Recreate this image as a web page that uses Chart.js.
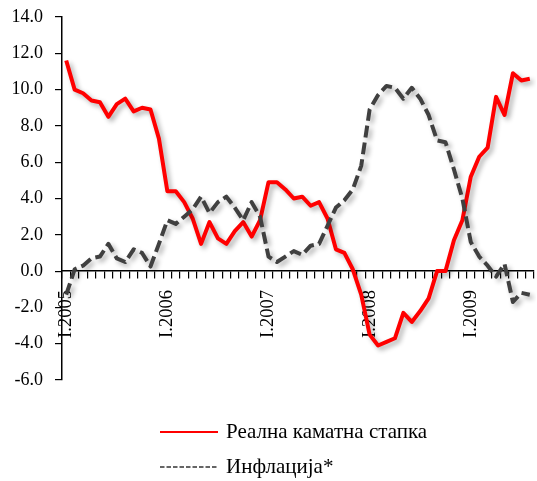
<!DOCTYPE html>
<html>
<head>
<meta charset="utf-8">
<script src="https://cdn.jsdelivr.net/npm/chart.js@4/dist/chart.umd.min.js"></script>
<style>
  html, body { margin: 0; padding: 0; background: #ffffff; }
  #wrap { width: 537px; height: 481px; }
</style>
</head>
<body>
<div id="wrap"><canvas id="chart" width="537" height="481"></canvas></div>
<script>
// Monthly series, January 2005 – August 2009
const firstYear = 2005;
const monthCount = 56;
const romanMonths = ['I', 'II', 'III', 'IV', 'V', 'VI', 'VII', 'VIII', 'IX', 'X', 'XI', 'XII'];
const months = [];
for (let k = 0; k < monthCount; k++) {
  months.push(romanMonths[k % 12] + '.' + (firstYear + Math.floor(k / 12)));
}

const realRate = [
  11.6, 10.0, 9.8, 9.4, 9.3, 8.5, 9.2, 9.5, 8.8, 9.0, 8.9, 7.3,
  4.4, 4.4, 3.8, 2.9, 1.5, 2.7, 1.8, 1.5, 2.2, 2.7, 1.9, 2.8,
  4.9, 4.9, 4.5, 4.0, 4.1, 3.6, 3.8, 2.9, 1.2, 1.0, 0.1, -1.3,
  -3.5, -4.1, -3.9, -3.7, -2.3, -2.8, -2.2, -1.5, 0.0, 0.0, 1.7, 2.8,
  5.2, 6.3, 6.8, 9.6, 8.6, 10.9, 10.5, 10.6
];

const inflation = [
  -1.3, 0.1, 0.3, 0.7, 0.8, 1.5, 0.7, 0.5, 1.2, 1.0, 0.25, 1.5,
  2.8, 2.6, 3.0, 3.4, 4.1, 3.2, 3.8, 4.1, 3.5, 2.8, 3.8, 3.0,
  0.8, 0.5, 0.8, 1.1, 0.9, 1.4, 1.5, 2.5, 3.5, 3.9, 4.5, 5.8,
  8.9, 9.7, 10.2, 10.1, 9.5, 10.1, 9.5, 8.6, 7.2, 7.1, 5.6, 4.0,
  1.6, 0.8, 0.3, -0.3, 0.4, -1.7, -1.2, -1.3
];

const seriesNames = ['Реална каматна стапка', 'Инфлација*'];
const yMin = -6, yMax = 14, yStep = 2;

const serif = 'Liberation Serif, "Times New Roman", serif';

// soft drop shadow under the plotted lines
const lineShadow = {
  id: 'lineShadow',
  beforeDatasetsDraw(chart) {
    const c = chart.ctx;
    c.save();
    c.shadowColor = 'rgba(0,0,0,0.32)';
    c.shadowBlur = 5;
    c.shadowOffsetX = 3;
    c.shadowOffsetY = 3;
  },
  afterDatasetsDraw(chart) {
    chart.ctx.restore();
  }
};

// legend stacked in two rows beneath the plot
const stackedLegend = {
  id: 'stackedLegend',
  afterDraw(chart, args, opts) {
    const ctx = chart.ctx;
    chart.data.datasets.forEach((d, k) => {
      const y = opts.top + k * opts.rowGap;
      ctx.save();
      ctx.strokeStyle = d.legendColor || d.borderColor;
      ctx.lineWidth = d.borderDash ? opts.dashWidth : opts.solidWidth;
      ctx.setLineDash(d.borderDash ? opts.sampleDash : []);
      ctx.beginPath();
      ctx.moveTo(opts.left, y);
      ctx.lineTo(opts.left + opts.sampleLength, y);
      ctx.stroke();
      ctx.setLineDash([]);
      ctx.fillStyle = '#000';
      ctx.font = opts.font;
      ctx.textBaseline = 'middle';
      ctx.textAlign = 'left';
      ctx.fillText(d.label, opts.left + opts.sampleLength + opts.gap, y);
      ctx.restore();
    });
  }
};

new Chart(document.getElementById('chart'), {
  type: 'line',
  data: {
    labels: months,
    datasets: [
      {
        label: seriesNames[0],
        data: realRate,
        borderColor: '#ff0000',
        borderWidth: 4,
        order: 2
      },
      {
        label: seriesNames[1],
        data: inflation,
        borderColor: '#404040',
        legendColor: '#333333',
        borderWidth: 4,
        borderDash: [12, 5],
        order: 1
      }
    ]
  },
  options: {
    responsive: false,
    animation: false,
    layout: { padding: { top: 17, right: 3, bottom: 101, left: 0 } },
    elements: {
      point: { radius: 0, hoverRadius: 0 },
      line: { tension: 0, borderJoinStyle: 'round', fill: false }
    },
    plugins: {
      legend: { display: false },
      tooltip: { enabled: false },
      stackedLegend: {
        left: 160, top: 432, rowGap: 35,
        sampleLength: 58, gap: 8,
        solidWidth: 2, dashWidth: 1.3, sampleDash: [4.5, 2],
        font: '21px ' + serif
      }
    },
    scales: {
      x: {
        type: 'category',
        position: { y: 0 },
        offset: true,
        grid: {
          display: true,
          drawOnChartArea: false,
          drawTicks: true,
          tickLength: 7,
          offset: true,
          color: '#000',
          lineWidth: 1.2
        },
        border: { display: true, color: '#000', width: 1.5 },
        ticks: {
          autoSkip: false,
          minRotation: 90,
          maxRotation: 90,
          padding: 12,
          color: '#000',
          font: { family: serif, size: 18.5 },
          callback: function (v, i) {
            return i % 12 === 0 ? this.getLabelForValue(v) : '';
          }
        },
        afterFit: s => { s.height = 0; s.paddingLeft = 0; s.paddingRight = 0; }
      },
      y: {
        min: yMin,
        max: yMax,
        ticks: {
          stepSize: yStep,
          padding: 12,
          color: '#000',
          font: { family: serif, size: 18 },
          callback: v => v.toFixed(1)
        },
        grid: {
          drawOnChartArea: false,
          drawTicks: true,
          tickLength: 7,
          color: '#000',
          lineWidth: 1.2
        },
        border: { color: '#000', width: 1.5 },
        afterFit: s => { s.width = 62; s.paddingTop = 0; s.paddingBottom = 0; }
      }
    }
  },
  plugins: [lineShadow, stackedLegend]
});
</script>
</body>
</html>
